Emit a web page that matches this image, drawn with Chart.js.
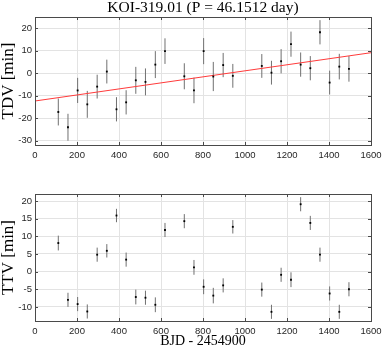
<!DOCTYPE html>
<html>
<head>
<meta charset="utf-8">
<script src="https://cdn.jsdelivr.net/npm/chart.js@4.4.0/dist/chart.umd.min.js"></script>
<style>
  html, body { margin: 0; padding: 0; background: #fff; }
  .panel { position: absolute; left: 0; width: 382px; height: 175px; }
  #top { top: 0; }
  #bottom { top: 175px; }
</style>
</head>
<body>
<div class="panel" id="top"><canvas id="tdvChart" width="382" height="175"></canvas></div>
<div class="panel" id="bottom"><canvas id="ttvChart" width="382" height="175"></canvas></div>
<script>
// Transit epochs (BJD - 2454900)
var epochs = [111, 157, 203, 249, 296, 342, 388, 434, 480, 526, 573, 619, 711, 757,
              803, 849, 896, 942, 1080, 1126, 1172, 1219, 1265, 1311, 1357, 1403, 1449, 1495];

// Transit duration variations [min]
var tdv = [-17.3, -24.1, -7.7, -13.9, -6.0, 0.7, -16.1, -13.0, -3.2, -3.9, 3.8, 9.8, -1.4, -7.7,
           9.8, -1.5, 3.6, -1.2, 3.2, 0.2, 5.3, 12.9, 3.8, 2.2, 18.2, -4.2, 2.9, 1.9];
var tdvErr = [6.0, 6.0, 5.6, 6.0, 5.3, 5.3, 5.4, 5.4, 6.0, 6.0, 6.0, 5.7, 5.8, 5.7,
              5.8, 6.5, 5.4, 5.3, 5.3, 5.3, 5.4, 5.6, 5.4, 5.4, 5.4, 5.3, 5.7, 5.7];

// Linear fit to TDV
var fitX = [0, 1600];
var fitY = [-12.4, 9.1];

// Transit timing variations [min]
var ttv = [8.1, -8.0, -9.2, -11.3, 4.8, 5.9, 15.9, 3.4, -7.2, -7.4, -9.4, 11.8, 14.3, 1.2,
           -4.3, -6.8, -3.9, 12.7, -5.1, -11.4, -0.9, -2.3, 19.1, 13.8, 4.8, -6.2, -11.4, -5.0];
var ttvErr = [2.1, 2.0, 2.0, 2.0, 2.0, 1.9, 1.9, 2.0, 2.1, 2.0, 2.1, 2.0, 2.0, 2.1,
              2.1, 2.2, 2.0, 1.9, 2.0, 2.0, 2.0, 2.1, 2.0, 2.0, 2.0, 2.0, 2.0, 2.0];

// Tick labels
var xTicks = [0, 200, 400, 600, 800, 1000, 1200, 1400, 1600];
var tdvTicks = [-30, -20, -10, 0, 10, 20];
var ttvTicks = [-10, -5, 0, 5, 10, 15, 20];

var axisColor = '#4a4a4a';
var tickFont = { family: 'Liberation Sans, Arial, sans-serif', size: 9.5 };
var xLabelFont = { family: 'Liberation Serif, Times New Roman, serif', size: 14 };
var yLabelFont = { family: 'Liberation Serif, Times New Roman, serif', size: 17 };

function points(xs, ys) {
    return xs.map(function(x, i) { return { x: x, y: ys[i] }; });
}

// error bars, boxed axes with inward ticks (MATLAB style)
var matlabAxes = {
    id: 'matlabAxes',
    beforeDatasetsDraw: function(chart, args, opts) {
        var ctx = chart.ctx, xs = chart.scales.x, ys = chart.scales.y;
        var err = opts.err || [];
        ctx.save();
        ctx.strokeStyle = '#707070';
        ctx.lineWidth = 1;
        chart.data.datasets[0].data.forEach(function(p, i) {
            var px = xs.getPixelForValue(p.x);
            ctx.beginPath();
            ctx.moveTo(px, ys.getPixelForValue(p.y - err[i]));
            ctx.lineTo(px, ys.getPixelForValue(p.y + err[i]));
            ctx.stroke();
        });
        ctx.restore();
    },
    afterDraw: function(chart, args, opts) {
        var ctx = chart.ctx, a = chart.chartArea;
        var xs = chart.scales.x, ys = chart.scales.y;
        var t = 3;
        ctx.save();
        ctx.strokeStyle = axisColor;
        ctx.lineWidth = 1;
        ctx.beginPath();
        xs.ticks.forEach(function(tk) {
            var px = Math.round(xs.getPixelForValue(tk.value)) + 0.5;
            ctx.moveTo(px, a.bottom); ctx.lineTo(px, a.bottom - t);
            ctx.moveTo(px, a.top); ctx.lineTo(px, a.top + t);
        });
        ys.ticks.forEach(function(tk) {
            var py = Math.round(ys.getPixelForValue(tk.value)) + 0.5;
            ctx.moveTo(a.left, py); ctx.lineTo(a.left + t, py);
            ctx.moveTo(a.right, py); ctx.lineTo(a.right - t, py);
        });
        ctx.stroke();
        ctx.strokeRect(Math.round(a.left) + 0.5, Math.round(a.top) + 0.5,
                       Math.round(a.right - a.left), Math.round(a.bottom - a.top));
        if (opts.title) {
            ctx.fillStyle = '#000';
            ctx.font = '15.5px "Liberation Serif", serif';
            ctx.textAlign = 'center';
            ctx.textBaseline = 'middle';
            ctx.fillText(opts.title, (a.left + a.right) / 2, 8);
        }
        ctx.restore();
    }
};

function makeChart(id, opt) {
    var ctx = document.getElementById(id).getContext('2d');
    var datasets = [{
        type: 'scatter',
        data: points(epochs, opt.values),
        pointStyle: 'rect',
        pointRadius: 1.3,
        pointBackgroundColor: '#000',
        pointBorderWidth: 0,
        order: 0
    }];
    if (opt.fit) {
        datasets.push({
            type: 'line',
            data: points(fitX, fitY),
            borderColor: '#ff3b3b',
            borderWidth: 1,
            pointRadius: 0,
            order: 1
        });
    }
    return new Chart(ctx, {
        type: 'scatter',
        data: { datasets: datasets },
        plugins: [matlabAxes],
        options: {
            responsive: false,
            animation: false,
            events: [],
            layout: { padding: { top: opt.top, right: 11, left: 0, bottom: 0 } },
            plugins: {
                legend: { display: false },
                tooltip: { enabled: false },
                matlabAxes: { err: opt.err, title: opt.title }
            },
            scales: {
                x: {
                    type: 'linear',
                    min: 0, max: 1600,
                    afterBuildTicks: function(s) { s.ticks = xTicks.map(function(v) { return { value: v }; }); },
                    afterFit: function(s) {
                        s.height = opt.xHeight;
                        s.paddingLeft = 0;
                        s.paddingRight = 0;
                    },
                    grid: { color: '#e3e3e3', drawTicks: false },
                    border: { display: false },
                    ticks: {
                        color: '#262626', font: tickFont, padding: 5, maxRotation: 0,
                        callback: function(v) { return String(v); }
                    },
                    title: opt.xTitle ? { display: true, text: opt.xTitle, color: '#000', font: xLabelFont, padding: { top: 0, bottom: 0 } } : { display: false }
                },
                y: {
                    min: opt.min, max: opt.max,
                    afterBuildTicks: function(s) { s.ticks = opt.ticks.map(function(v) { return { value: v }; }); },
                    afterFit: function(s) {
                        s.width = 35;
                        s.paddingTop = 0;
                        s.paddingBottom = 0;
                    },
                    grid: { color: '#e3e3e3', drawTicks: false },
                    border: { display: false },
                    ticks: { color: '#262626', font: tickFont, padding: 3 },
                    title: { display: true, text: opt.yTitle, color: '#000', font: yLabelFont, padding: { top: -2, bottom: 0 } }
                }
            }
        }
    });
}

makeChart('tdvChart', {
    values: tdv, err: tdvErr, fit: true,
    min: -32, max: 25, ticks: tdvTicks,
    top: 17, xHeight: 30,
    yTitle: 'TDV [min]',
    title: 'KOI-319.01 (P = 46.1512 day)'
});

makeChart('ttvChart', {
    values: ttv, err: ttvErr, fit: false,
    min: -14, max: 22, ticks: ttvTicks,
    top: 19, xHeight: 29,
    yTitle: 'TTV [min]',
    xTitle: 'BJD - 2454900'
});
</script>
</body>
</html>
